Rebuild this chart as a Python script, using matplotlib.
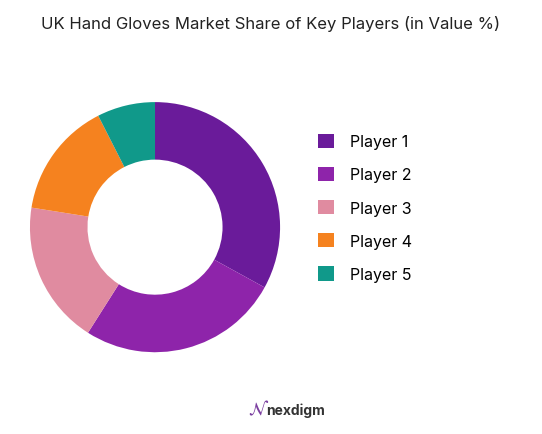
import matplotlib.pyplot as plt

labels = ["Player 1", "Player 2", "Player 3", "Player 4", "Player 5"]
shares = [33, 26, 18.5, 15, 7.5]
colors = ["#6a1b9a", "#8e24aa", "#e08ba0", "#f5821f", "#10998a"]

fig = plt.figure(figsize=(5.42, 4.35), dpi=100)
ax = fig.add_axes([0.055, 0.188, 0.462, 0.575])
wedges, _ = ax.pie(shares, colors=colors, startangle=90, counterclock=False,
                   radius=1.0, wedgeprops=dict(width=0.46, edgecolor="none"))
ax.set_xlim(-1, 1)
ax.set_ylim(-1, 1)
ax.set_aspect("equal")

fig.text(0.5, 0.945, "UK Hand Gloves Market Share of Key Players (in Value %)",
         ha="center", va="center", fontsize=12, color="#222222", family="Inter")

fig.legend(wedges, labels, loc="center left", bbox_to_anchor=(0.56, 0.52),
           frameon=False, handlelength=1.0, handleheight=1.0,
           labelspacing=1.1, handletextpad=1.0,
           prop={"family": "Inter", "size": 11.5})

fig.text(0.545, 0.055, "nexdigm", ha="center", va="center", fontsize=10,
         color="#333333", family="Inter", weight="bold")
fig.text(0.478, 0.058, "$\\mathcal{N}$", ha="center", va="center", fontsize=13,
         color="#7b3fa0")

fig.savefig("out.png", dpi=100, facecolor="white")
